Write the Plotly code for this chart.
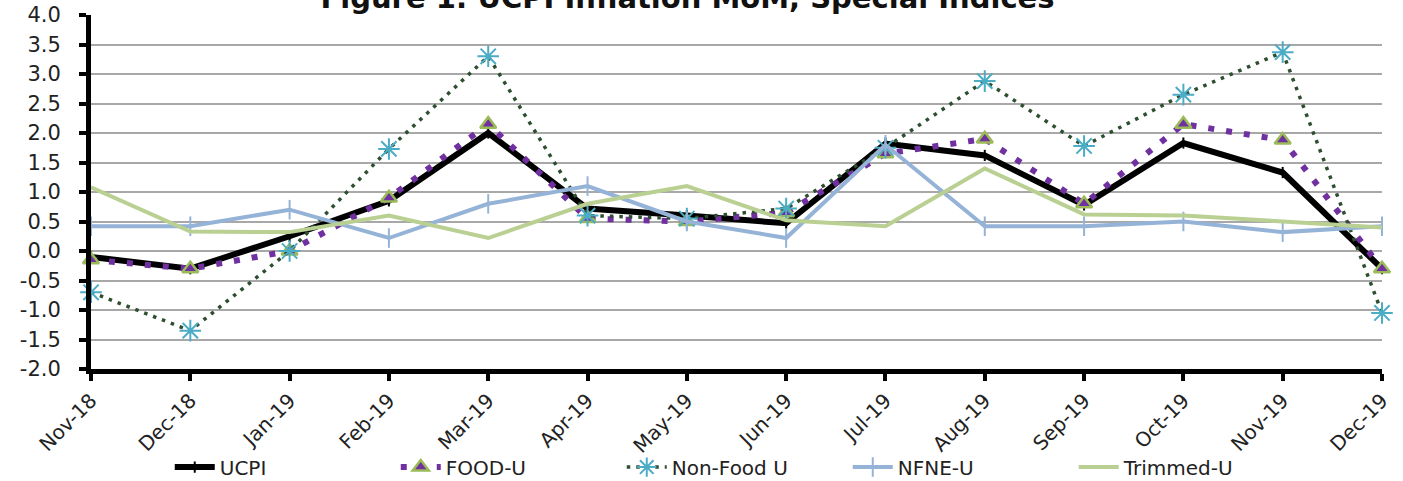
import plotly.graph_objects as go

months = ["Nov-18", "Dec-18", "Jan-19", "Feb-19", "Mar-19", "Apr-19", "May-19",
          "Jun-19", "Jul-19", "Aug-19", "Sep-19", "Oct-19", "Nov-19", "Dec-19"]
ucpi = [-0.10, -0.30, 0.25, 0.85, 2.00, 0.72, 0.60, 0.47, 1.82, 1.62, 0.78, 1.83, 1.33, -0.30]
food_u = [-0.15, -0.30, 0.00, 0.90, 2.15, 0.55, 0.50, 0.65, 1.65, 1.90, 0.80, 2.15, 1.88, -0.30]
nonfood_u = [-0.70, -1.35, 0.00, 1.73, 3.30, 0.60, 0.55, 0.72, 1.75, 2.88, 1.78, 2.65, 3.37, -1.05]
nfne_u = [0.42, 0.42, 0.70, 0.22, 0.80, 1.10, 0.50, 0.22, 1.80, 0.42, 0.42, 0.50, 0.32, 0.42]
trimmed_u = [1.08, 0.33, 0.32, 0.60, 0.22, 0.80, 1.10, 0.52, 0.42, 1.40, 0.62, 0.60, 0.50, 0.40]
y_ticks = [-2.0, -1.5, -1.0, -0.5, 0.0, 0.5, 1.0, 1.5, 2.0, 2.5, 3.0, 3.5, 4.0]

x = list(range(len(months)))
FONT = "DejaVu Sans"

fig = go.Figure()
fig.add_trace(go.Scatter(
    x=x, y=ucpi, name="UCPI", mode="lines+markers",
    line=dict(color="#000000", width=6),
    marker=dict(symbol="line-ns-open", size=8, color="#000000",
                line=dict(color="#000000", width=2)),
    cliponaxis=False))
fig.add_trace(go.Scatter(
    x=x, y=food_u, name="FOOD-U", mode="lines+markers",
    line=dict(color="#7030A0", width=6, dash="6px,12px"),
    marker=dict(symbol="triangle-up", size=14, color="#7030A0",
                line=dict(color="#9BBB59", width=2.5)),
    cliponaxis=False))
fig.add_trace(go.Scatter(
    x=x, y=nonfood_u, name="Non-Food U", mode="lines+markers",
    line=dict(color="#2D4F30", width=3.5, dash="3.5px,6px"),
    marker=dict(symbol="asterisk-open", size=18, color="#4BACC6",
                line=dict(color="#4BACC6", width=2)),
    cliponaxis=False))
fig.add_trace(go.Scatter(
    x=x, y=nfne_u, name="NFNE-U", mode="lines+markers",
    line=dict(color="#95B3D7", width=4),
    marker=dict(symbol="line-ns-open", size=14, color="#95B3D7",
                line=dict(color="#95B3D7", width=2)),
    cliponaxis=False))
fig.add_trace(go.Scatter(
    x=x, y=trimmed_u, name="Trimmed-U", mode="lines",
    line=dict(color="#B9D092", width=4),
    cliponaxis=False))

fig.update_layout(
    width=1403, height=481,
    margin=dict(l=91, r=21, t=15, b=112, autoexpand=False),
    paper_bgcolor="white", plot_bgcolor="white",
    font=dict(family=FONT, color="#222222"),
    title=dict(text="<b>Figure 1: UCPI Inflation MoM, Special Indices</b>",
               x=0.49, xref="container", xanchor="center",
               y=0.984, yref="container", yanchor="bottom",
               automargin=False,
               font=dict(size=29, family=FONT, color="#111111")),
    showlegend=True,
    legend=dict(orientation="h", x=0.061, xanchor="left",
                y=-0.277, yref="paper", yanchor="middle",
                bgcolor="rgba(0,0,0,0)",
                font=dict(size=20, family=FONT, color="#222222"),
                entrywidth=171, entrywidthmode="pixels",
                itemwidth=40, tracegroupgap=0),
)
fig.update_xaxes(
    range=[0, 13], tickmode="array", tickvals=x, ticktext=months,
    tickangle=-45, tickfont=dict(size=20, family=FONT, color="#222222"),
    showgrid=False, zeroline=False, automargin=False,
    showline=True, linecolor="#000000", linewidth=5,
    ticks="outside", ticklen=7, tickwidth=4, tickcolor="#000000")
fig.update_yaxes(
    range=[-2, 4], tickmode="array", tickvals=y_ticks,
    ticktext=[f"{v:.1f}" for v in y_ticks],
    tickfont=dict(size=21, family=FONT, color="#222222"),
    showgrid=True, gridcolor="#A8A8A8", gridwidth=1.5, zeroline=False,
    automargin=False,
    showline=True, linecolor="#000000", linewidth=5,
    ticks="outside", ticklen=7, tickwidth=4, tickcolor="#000000",
    ticklabelstandoff=14)

fig.write_html("out.html", config={"displayModeBar": False},
               post_script="document.body.style.margin='0';")
